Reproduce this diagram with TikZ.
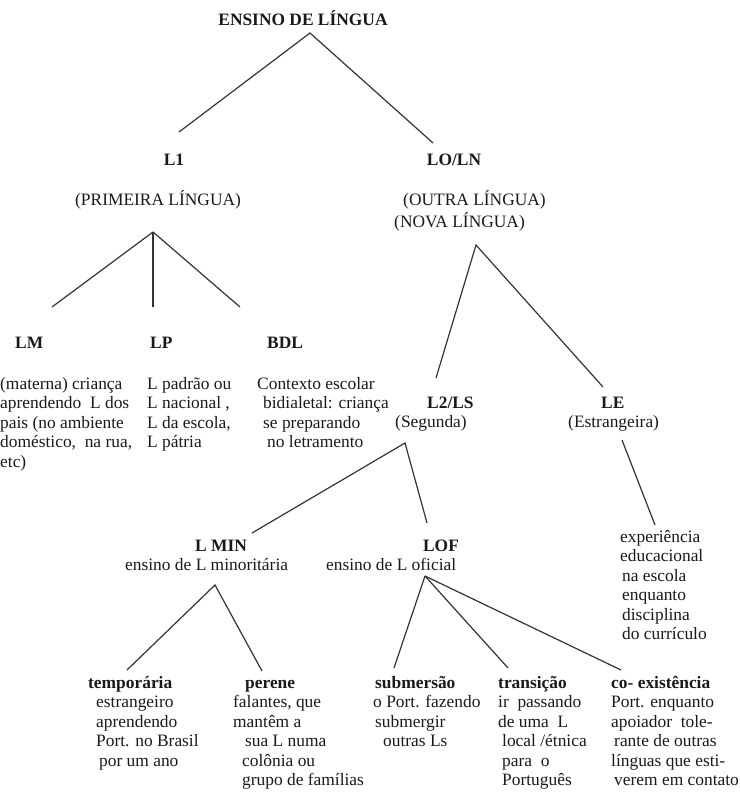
\documentclass[tikz,border=0pt]{standalone}
\usepackage{fontspec}
\setmainfont{Liberation Serif}
\begin{document}
\begin{tikzpicture}[x=1pt,y=-1pt,
  txt/.style={anchor=base west, inner sep=0pt, text=black!90, font=\fontsize{17.4}{19.5}\selectfont, align=left},
  hd/.style={txt, font=\fontsize{17.4}{19.5}\selectfont\bfseries},
  hdc/.style={hd, anchor=base},
  ln/.style={draw=black!80, line width=1.2pt}]
\useasboundingbox (0,0) rectangle (739,794);
% note: multi-line nodes are placed at the baseline of their LAST line

% ---- level 0
\node[hdc] (root) at (303,26) {ENSINO DE LÍNGUA};
\coordinate (rootA) at (310,33);
\coordinate (l1T) at (179,132);
\coordinate (loT) at (433,143);

% ---- level 1
\node[hdc] (L1) at (174,166) {L1};
\node[txt] (L1s) at (75,206) {(PRIMEIRA LÍNGUA)};
\node[hdc] (LO) at (454,166) {LO/LN};
\node[txt] (LOs) at (403,206) {(OUTRA LÍNGUA)};
\node[txt] (LNs) at (394,228) {(NOVA LÍNGUA)};
\coordinate (l1A) at (153,232);
\coordinate (lmT) at (52,307);
\coordinate (lpT) at (153,307);
\coordinate (bdlT) at (240,307);
\coordinate (loA) at (476,245);
\coordinate (l2T) at (436,378);
\coordinate (leT) at (603,387);

% ---- level 2 (L1 branch)
\node[hd] (LM) at (15,348) {LM};
\node[hd] (LP) at (150,348) {LP};
\node[hd] (BDL) at (267,348) {BDL};
\node[txt] (LMt) at (0,467) {(materna) criança\\aprendendo~ L dos\\pais (no ambiente\\doméstico,~ na rua,\\etc)};
\node[txt] (LPt) at (147,447.5) {L padrão ou\\L nacional ,\\L da escola,\\L pátria};
\node[txt] (BDLt) at (257,447.5) {Contexto escolar\\\hspace*{6pt}bidialetal: criança\\\hspace*{6pt}se preparando\\\hspace*{10pt}no letramento};

% ---- level 2 (LO branch)
\node[hd] (L2) at (427,408) {L2/LS};
\node[txt] (L2s) at (395,427) {(Segunda)};
\node[hd] (LE) at (601,408) {LE};
\node[txt] (LEs) at (568,427) {(Estrangeira)};
\coordinate (l2A) at (405,443);
\coordinate (lminT) at (252,533);
\coordinate (lofT) at (427,523);
\coordinate (leA) at (622,440);
\coordinate (leB) at (655,525);
\node[txt] (LEt) at (620,639.5) {experiência\\educacional\\\hspace*{2pt}na escola\\\hspace*{2pt}enquanto\\\hspace*{2pt}disciplina\\\hspace*{2pt}do currículo};

% ---- level 3
\node[hdc] (LMIN) at (221,551) {L MIN};
\node[txt] (LMINs) at (125,570) {ensino de L minoritária};
\node[hdc] (LOF) at (441,551) {LOF};
\node[txt] (LOFs) at (326,570) {ensino de L oficial};
\coordinate (lminA) at (215,585);
\coordinate (tempT) at (127,670);
\coordinate (perT) at (262,671);
\coordinate (lofA) at (425,576);
\coordinate (subT) at (394,668);
\coordinate (traT) at (508,668);
\coordinate (coT) at (621,670);

% ---- level 4
\node[txt] (temp) at (88,766) {\textbf{temporária}\\\hspace*{8pt}estrangeiro\\\hspace*{8pt}aprendendo\\\hspace*{8pt}Port. no Brasil\\\hspace*{11pt}por um ano};
\node[txt] (per) at (233,785.5) {\hspace*{12pt}\textbf{perene}\\falantes, que\\mantêm a\\\hspace*{12pt}sua L numa\\\hspace*{9pt}colônia ou\\\hspace*{9pt}grupo de famílias};
\node[txt] (sub) at (373,746.5) {\hspace*{2pt}\textbf{submersão}\\o Port. fazendo\\\hspace*{2pt}submergir\\\hspace*{10pt}outras Ls};
\node[txt] (tra) at (498,785.5) {\textbf{transição}\\ir~ passando\\de uma~ L\\\hspace*{4pt}local /étnica\\\hspace*{4pt}para~ o\\\hspace*{4pt}Português};
\node[txt] (co) at (611,785.5) {\textbf{co- existência}\\Port. enquanto\\apoiador~ tole-\\\hspace*{3pt}rante de outras\\línguas que esti-\\\hspace*{3pt}verem em contato};

% ---- connectors
\draw[ln] (l1T) -- (rootA) -- (loT);
\draw[ln] (l1A) -- (lmT);
\draw[ln] (l1A) -- (lpT);
\draw[ln] (l1A) -- (bdlT);
\draw[ln] (l2T) -- (loA) -- (leT);
\draw[ln] (lminT) -- (l2A) -- (lofT);
\draw[ln] (leA) -- (leB);
\draw[ln] (tempT) -- (lminA) -- (perT);
\draw[ln] (lofA) -- (subT);
\draw[ln] (lofA) -- (traT);
\draw[ln] (lofA) -- (coT);
\end{tikzpicture}
\end{document}
